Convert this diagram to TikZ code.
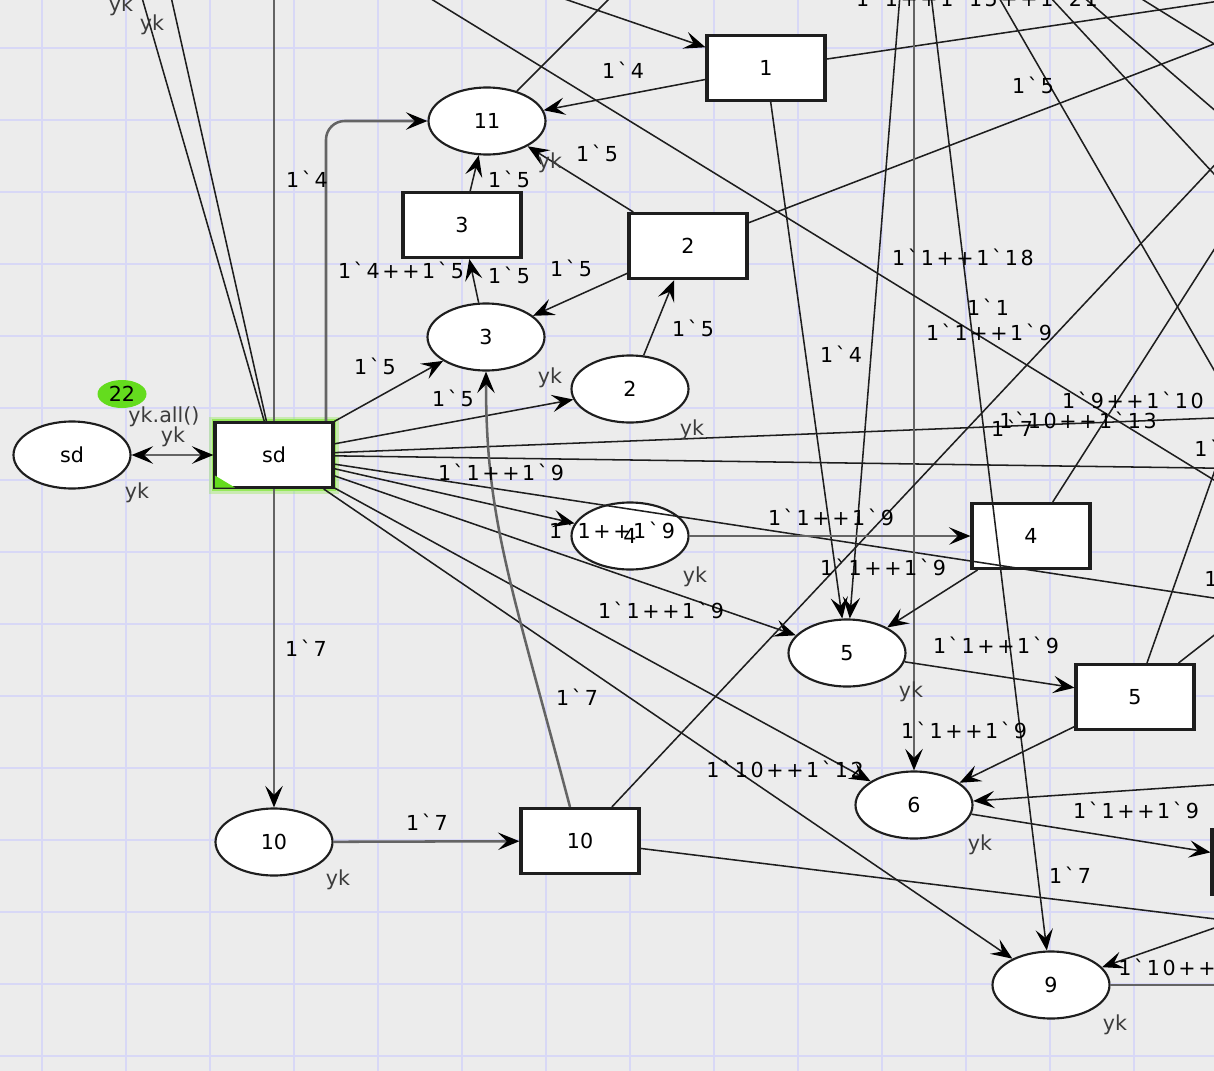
\documentclass[tikz,border=0pt]{standalone}
\usepackage{fontspec}
\setmainfont{DejaVu Sans}
\newfontfamily\inscrfamily[LetterSpace=12.5,Ligatures=ResetAll]{DejaVu Sans}
\usetikzlibrary{shapes.geometric,arrows.meta,calc}
\definecolor{canvas}{RGB}{236,236,236}
\definecolor{gridblue}{RGB}{216,216,246}
\definecolor{arcblack}{RGB}{30,30,30}
\definecolor{arcgray}{RGB}{100,100,100}
\definecolor{typegray}{RGB}{60,60,60}
\definecolor{glowgreen}{RGB}{150,232,90}
\definecolor{tokengreen}{RGB}{100,220,30}
\newcommand{\netfont}{\fontsize{15.5}{18}\selectfont}
\newcommand{\inscrfont}{\inscrfamily\fontsize{15.5}{18}\selectfont}

\begin{document}
\begin{tikzpicture}[x=0.75pt,y=-0.75pt]
  \tikzset{
    place/.style={ellipse, draw=arcblack, line width=1.6pt, fill=white,
      minimum width=87.75pt, minimum height=50.25pt, inner sep=0pt, font=\netfont},
    trans/.style={rectangle, draw=arcblack, line width=2.3pt, fill=white,
      minimum width=88.5pt, minimum height=48.75pt, inner sep=0pt, font=\netfont},
    arc/.style={draw=arcblack, line width=1.15pt},
    heavyarc/.style={draw=arcgray, line width=1.9pt},
    inscr/.style={font=\inscrfont, inner sep=0pt},
    colset/.style={font=\netfont, text=typegray, inner sep=0pt},
    token/.style={ellipse, fill=tokengreen, minimum width=36.75pt,
      minimum height=21pt, inner sep=0pt, font=\netfont},
    gridline/.style={draw=gridblue, line width=1.5pt},
    >={Stealth[length=16pt,width=13pt,inset=6.5pt,color=black]}
  }
  \useasboundingbox (0,0) rectangle (1214,1071);
  \clip (0,0) rectangle (1214,1071);
  % canvas and grid
  \fill[canvas] (0,0) rectangle (1214,1071);
  \foreach \gx in {42,126,...,1134}
    \draw[gridline] (\gx,0) -- (\gx,1071);
  \foreach \gy in {48,120,...,1056}
    \draw[gridline] (0,\gy) -- (1214,\gy);

  % places
  \node[place] (p_sd) at (72,455) {sd};
  \node[place] (p11) at (487,121) {11};
  \node[place] (p3) at (486,337) {3};
  \node[place] (p2) at (630,389) {2};
  \node[place] (p4) at (630,536) {4};
  \node[place] (p5) at (847,653) {5};
  \node[place] (p6) at (914,805) {6};
  \node[place] (p9) at (1051,985) {9};
  \node[place] (p10) at (274,842) {10};

  % transitions
  \node[trans, preaction={draw=glowgreen, line width=9pt, opacity=0.4},
    preaction={draw=glowgreen, line width=5pt}] (t_sd) at (274,455) {sd};
  \fill[tokengreen] ($(t_sd.south west)+(1.5,-1.5)$) -- ++(0,-12) -- ++(20,12) -- cycle;
  \node[trans] (t1) at (766,68) {1};
  \node[trans] (t3) at (462,225) {3};
  \node[trans] (t2) at (688,246) {2};
  \node[trans] (t4) at (1031,536) {4};
  \node[trans] (t5) at (1135,697) {5};
  \node[trans] (t10) at (580,841) {10};
  \node[trans] (tR) at (1271,862) {};

  % free ends outside the frame
  \coordinate (up1) at (134,-30);
  \coordinate (up2) at (165,-30);
  \coordinate (up3) at (274,-30);
  \coordinate (n11) at (630,-22);
  \coordinate (w1) at (480,-30);
  \coordinate (n900) at (902,-30);
  \coordinate (n915) at (914,-30);
  \coordinate (n932) at (928,-30);
  \coordinate (e2) at (1240,-2);
  \coordinate (e34) at (1240,34);
  \coordinate (e138) at (1240,138);
  \coordinate (e209) at (1240,209);
  \coordinate (e399) at (1240,399);
  \coordinate (e417) at (1240,417);
  \coordinate (e468) at (1240,468.5);
  \coordinate (e602) at (1240,602);
  \coordinate (e615) at (1240,615);
  \coordinate (e783) at (1240,783);
  \coordinate (e919) at (1240,919);
  \coordinate (e922) at (1240,922);
  \coordinate (e985) at (1240,985);
  \coordinate (f1a) at (384,-30);   \coordinate (f1b) at (1240,496);
  \coordinate (f2a) at (983,-30);   \coordinate (f2b) at (1240,415);
  \coordinate (f3a) at (1025,-30);  \coordinate (f3b) at (1240,202);
  \coordinate (f4a) at (1052,-30);  \coordinate (f4b) at (1240,132);
  \coordinate (f5a) at (1095,-30);  \coordinate (f5b) at (1240,60);

  % arcs around sd
  \draw[heavyarc,<->] (p_sd) -- (t_sd);
  \draw[arc] (t_sd) -- (up1);
  \draw[arc] (t_sd) -- (up2);
  \draw[heavyarc] (t_sd) -- (up3);
  \draw[heavyarc,->,rounded corners=14pt] ($(t_sd.north)+(52,0)$) |- (p11);
  \draw[arc,->] (t_sd) -- (p3);
  \draw[arc,->] (t_sd) -- (p2);
  \draw[arc] (t_sd) -- (e417);
  \draw[arc] (t_sd) -- (e468);
  \draw[arc] (t_sd) -- (e602);
  \draw[arc,->] (t_sd) -- (p4);
  \draw[arc,->] (t_sd) -- (p5);
  \draw[arc,->] (t_sd) -- (p6);
  \draw[arc,->] (t_sd) -- (p9);
  \draw[heavyarc,->] (t_sd) -- (p10);

  % upper part
  \draw[arc,->] (p3) -- (t3);
  \draw[arc,->] (t3) -- (p11);
  \draw[arc,->] (t2) -- (p11);
  \draw[arc,->] (t2) -- (p3);
  \draw[arc,->] (p2) -- (t2);
  \draw[arc,->] (t1) -- (p11);
  \draw[arc] (p11) -- (n11);
  \draw[arc,->] (w1) -- (t1);
  \draw[arc] (t1) -- (e2);
  \draw[arc] (t2) -- (e34);
  \draw[arc,->] (t1) -- (p5);
  \draw[arc,->] (n900) -- (p5);
  \draw[heavyarc,->] (n915) -- (p6);
  \draw[arc,->] (n932) -- (p9);
  \draw[arc] (f1a) -- (f1b);
  \draw[arc] (f2a) -- (f2b);
  \draw[arc] (f3a) -- (f3b);
  \draw[arc] (f4a) -- (f4b);
  \draw[arc] (f5a) -- (f5b);

  % lower part
  \draw[heavyarc,->] (p10) -- (t10);
  \draw[heavyarc,->] ($(t10.north)+(-10,0)$) .. controls (510,580) and (486,520) .. (p3.south);
  \draw[arc] (t10) -- (e138);
  \draw[arc] (t10) -- (e922);
  \draw[heavyarc,->] (p4) -- (t4);
  \draw[arc] (t4) -- (e209);
  \draw[arc,->] (t4) -- (p5);
  \draw[arc,->] (p5) -- (t5);
  \draw[arc] (t5) -- (e399);
  \draw[arc] (t5) -- (e615);
  \draw[arc,->] (t5) -- (p6);
  \draw[arc,->] (e783) -- (p6);
  \draw[arc,->] (p6) -- (tR);
  \draw[arc,->] (e919) -- (p9);
  \draw[heavyarc] (p9) -- (e985);

  % marking
  \node[token] (tok) at (122,394) {22};
  \node[colset] (init) at (164,417) {yk.all()};

  % arc inscriptions
  \foreach \ix/\iy/\itext [count=\i] in {
      307/179/1`4, 623/70/1`4, 509/179/1`5, 597/153/1`5,
      401/270/1`4++1`5, 509/275/1`5, 571/268/1`5, 693/328/1`5,
      375/366/1`5, 453/398/1`5, 501/472/1`1++1`9, 612/530/1`1++1`9,
      661/610/1`1++1`9, 577/697/1`7, 306/648/1`7, 427/822/1`7,
      841/354/1`4, 963/257/1`1++1`18, 988/307/1`1, 989/332/1`1++1`9,
      1033/85/1`5, 977/-2/1`1++1`15++1`21, 1133/400/1`9++1`10,
      1078/420/1`10++1`13, 1012/428/1`7, 831/517/1`1++1`9,
      883/567/1`1++1`9, 996/645/1`1++1`9, 964/730/1`1++1`9,
      785/769/1`10++1`12, 1136/810/1`1++1`9, 1070/875/1`7}
    \node[inscr] (ins\i) at (\ix,\iy) {\itext};
  \node[inscr, anchor=west] (insA) at (1194,448) {1`11};
  \node[inscr, anchor=west] (insB) at (1204,578) {1`1++1`9};
  \node[inscr, anchor=west] (insC) at (1118,967) {1`10++1`13};

  % colour sets and variable inscriptions
  \foreach \cx/\cy [count=\j] in {137/493, 550/163, 550/378, 692/430,
      695/577, 911/692, 980/845, 1115/1025, 338/880, 173/437, 121/6, 152/25}
    \node[colset] (yk\j) at (\cx,\cy) {yk};
\end{tikzpicture}
\end{document}
